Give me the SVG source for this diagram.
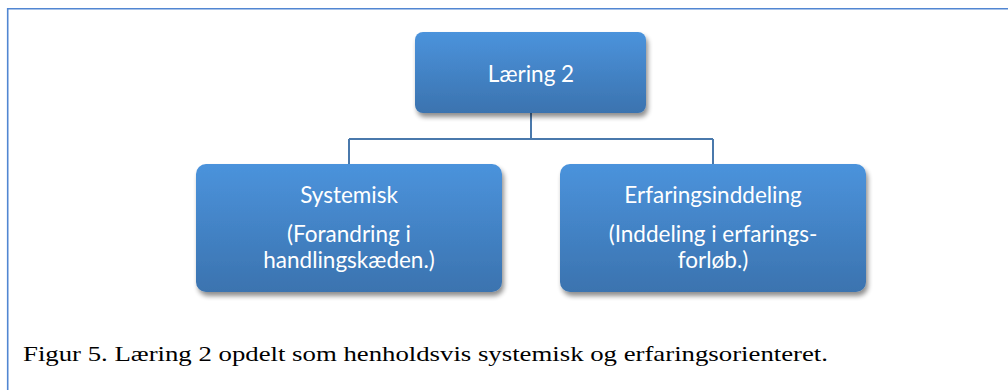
<svg xmlns="http://www.w3.org/2000/svg" width="1008" height="390" viewBox="0 0 1008 390">
<defs>
<linearGradient id="boxGrad" x1="0" y1="0" x2="0" y2="1">
<stop offset="0" stop-color="#4B93DC"/>
<stop offset="1" stop-color="#3B73AF"/>
</linearGradient>
<filter id="shadow" x="-10%" y="-10%" width="125%" height="135%">
<feGaussianBlur in="SourceAlpha" stdDeviation="2.5"/>
<feOffset dx="2" dy="4" result="b"/>
<feComponentTransfer><feFuncA type="linear" slope="0.45"/></feComponentTransfer>
<feMerge><feMergeNode/><feMergeNode in="SourceGraphic"/></feMerge>
</filter>
<style>
.box{fill:url(#boxGrad);filter:url(#shadow);}
.lbl{font-family:Lato,"Open Sans","Liberation Sans",sans-serif;font-size:22.5px;fill:#ffffff;text-anchor:middle;}
.conn{stroke:#4A79AC;stroke-width:2;fill:none;}
.cap{font-family:"Liberation Serif","DejaVu Serif",serif;font-size:21.5px;fill:#000;}
</style>
</defs>
<rect width="1008" height="390" fill="#ffffff"/>
<path d="M7.7 390 V8.7 H1008" fill="none" stroke="#5186D2" stroke-width="1.6"/>
<g id="connectors">
<path class="conn" d="M531 113 V139 M349 139 H713 M349 139 V164 M713 139 V164"/>
</g>
<g id="node-laering2">
<rect class="box" x="415" y="32" width="231" height="81" rx="8"/>
<text class="lbl" x="531" y="82">Læring 2</text>
</g>
<g id="node-systemisk">
<rect class="box" x="196" y="164" width="306" height="128" rx="10"/>
<text class="lbl" x="349" y="203">Systemisk</text>
<text class="lbl" x="349" y="242">(Forandring i</text>
<text class="lbl" x="349" y="268">handlingskæden.)</text>
</g>
<g id="node-erfaring">
<rect class="box" x="560" y="164" width="306" height="128" rx="10"/>
<text class="lbl" x="713" y="203">Erfaringsinddeling</text>
<text class="lbl" x="713" y="242">(Inddeling i erfarings-</text>
<text class="lbl" x="713" y="268">forløb.)</text>
</g>
<text class="cap" x="23" y="361" textLength="805" lengthAdjust="spacingAndGlyphs">Figur 5. Læring 2 opdelt som henholdsvis systemisk og erfaringsorienteret.</text>
</svg>
